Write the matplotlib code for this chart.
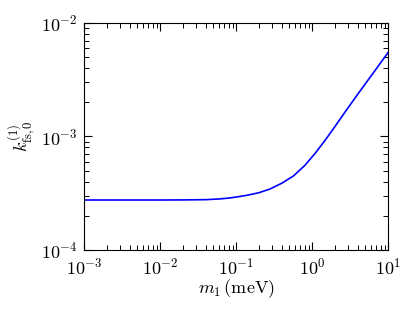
import matplotlib
matplotlib.use("Agg")
import matplotlib.pyplot as plt
from matplotlib.ticker import LogLocator, NullFormatter

m1 = [1e-3, 3e-3, 1e-2, 0.02, 0.04, 0.06, 0.08, 0.1, 0.14, 0.2, 0.28, 0.4, 0.57,
      0.8, 1.1, 1.5, 2.0, 2.8, 4.0, 5.6, 7.5, 10.0]
k_fs = [2.75e-4, 2.75e-4, 2.75e-4, 2.755e-4, 2.77e-4, 2.81e-4, 2.86e-4, 2.92e-4, 3.03e-4,
        3.19e-4, 3.44e-4, 3.87e-4, 4.49e-4, 5.54e-4, 7.11e-4, 9.34e-4, 1.224e-3, 1.69e-3,
        2.363e-3, 3.22e-3, 4.21e-3, 5.49e-3]

plt.rcParams['mathtext.fontset'] = 'cm'
plt.rcParams['font.family'] = 'serif'
plt.rcParams['font.serif'] = ['cmr10', 'DejaVu Serif']
plt.rcParams['axes.formatter.use_mathtext'] = True

fig = plt.figure(figsize=(4.16, 3.10), dpi=100)
ax = fig.add_axes([0.202, 0.194, 0.731, 0.732])
ax.plot(m1, k_fs, color='blue', lw=1.2)
ax.set_xscale('log')
ax.set_yscale('log')
ax.set_xlim(1e-3, 1e1)
ax.set_ylim(1e-4, 1e-2)
for axis in (ax.xaxis, ax.yaxis):
    axis.set_major_locator(LogLocator(base=10, numticks=20))
    axis.set_minor_locator(LogLocator(base=10, subs=(2, 3, 4, 5, 6, 7, 8, 9), numticks=100))
    axis.set_minor_formatter(NullFormatter())
ax.tick_params(which='both', direction='in', top=True, right=True, labelsize=13)
ax.tick_params(which='major', length=6, width=0.8)
ax.tick_params(which='minor', length=3.5, width=0.7)
ax.tick_params(axis='x', which='major', pad=5)
ax.tick_params(axis='y', which='major', pad=5)
ax.set_xlabel(r'$m_1\,(\mathrm{meV})$', fontsize=13, labelpad=0)
ax.set_ylabel(r'$k^{(1)}_{\mathrm{fs},0}$', fontsize=13, labelpad=2)
fig.savefig('out.png', dpi=100)
